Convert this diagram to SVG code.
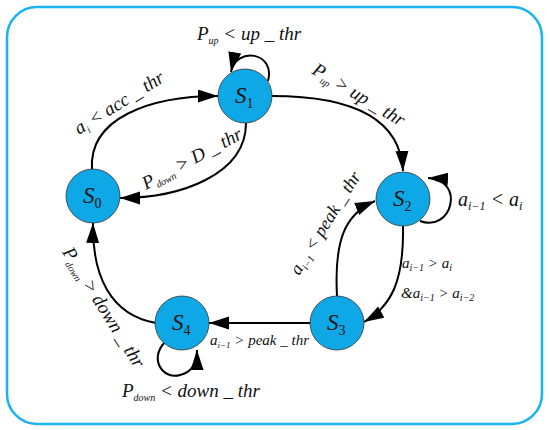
<svg xmlns="http://www.w3.org/2000/svg" width="550" height="430" viewBox="0 0 550 430">
<defs>
<marker id="arr" markerUnits="userSpaceOnUse" markerWidth="22" markerHeight="14" refX="20" refY="6.5" orient="auto">
<path d="M0,0 L20,6.5 L0,13 z" fill="#000"/>
</marker>
<style>
.node{fill:#0ea8e6;stroke:#333;stroke-width:0.8}
.edge{fill:none;stroke:#000;stroke-width:2;marker-end:url(#arr)}
.t{font-style:italic;fill:#111}
.nl{font-size:23px}
.d{font-style:normal}
</style>
</defs>
<rect x="7" y="7" width="535" height="417" rx="30" ry="30" fill="#fff" stroke="#19b3f0" stroke-width="2.5"/>
<g id="connectors">
<path class="edge" d="M92,170 C88,118 150,96 218,96"/>
<path class="edge" d="M246,123 C246,175 180,198 120,198"/>
<path class="edge" d="M268,81 C276,52 236,46 231,72"/>
<path class="edge" d="M272,96 C340,96 400,112 403,171"/>
<path class="edge" d="M420,221 C452,233 466,180 428,178"/>
<path class="edge" d="M403,226 C404,280 392,306 364,322"/>
<path class="edge" d="M337,296 C334,240 345,214 375,201"/>
<path class="edge" d="M310,323 L209,323"/>
<path class="edge" d="M156,323 C110,315 92,275 93,223"/>
<path class="edge" d="M165,342 C148,360 164,380 180,375 C193,372 197,362 197,350"/>
</g>
<g font-family="Liberation Serif, Times New Roman, serif">
<g id="S0"><circle class="node" cx="93" cy="196" r="27"/><text class="t nl" x="83" y="203">S<tspan class="d" font-size="14" dy="5">0</tspan></text></g>
<g id="S1"><circle class="node" cx="245" cy="96" r="27"/><text class="t nl" x="235" y="103">S<tspan class="d" font-size="14" dy="5">1</tspan></text></g>
<g id="S2"><circle class="node" cx="403" cy="199" r="27"/><text class="t nl" x="393" y="206">S<tspan class="d" font-size="14" dy="5">2</tspan></text></g>
<g id="S3"><circle class="node" cx="337" cy="323" r="27"/><text class="t nl" x="327" y="330">S<tspan class="d" font-size="14" dy="5">3</tspan></text></g>
<g id="S4"><circle class="node" cx="182" cy="323" r="27"/><text class="t nl" x="172" y="330">S<tspan class="d" font-size="14" dy="5">4</tspan></text></g>
<g id="labels">
<text class="t" font-size="19" x="197" y="40">P<tspan font-size="10" dy="4">up</tspan><tspan dy="-4"> &lt; up _ thr</tspan></text>
<text class="t" font-size="19" transform="translate(79,135) rotate(-32)">a<tspan font-size="10" dy="4">i</tspan><tspan dy="-4"> &lt; acc _ thr</tspan></text>
<text class="t" font-size="19" transform="translate(146,190) rotate(-28)">P<tspan font-size="10" dy="4">down</tspan><tspan dy="-4"> &gt; D _ thr</tspan></text>
<text class="t" font-size="19" transform="translate(311,73) rotate(31)">P<tspan font-size="10" dy="4">up</tspan><tspan dy="-4"> &gt; up _ thr</tspan></text>
<text class="t" font-size="20" x="458" y="206">a<tspan font-size="12" dy="4">i−1</tspan><tspan dy="-4"> &lt; a</tspan><tspan font-size="12" dy="4">i</tspan></text>
<text class="t" font-size="15" x="402" y="268">a<tspan font-size="10" dy="3">i−1</tspan><tspan dy="-3"> &gt; a</tspan><tspan font-size="10" dy="3">i</tspan></text>
<text class="t" font-size="15" x="401" y="298">&amp;a<tspan font-size="10" dy="3">i−1</tspan><tspan dy="-3"> &gt; a</tspan><tspan font-size="10" dy="3">i−2</tspan></text>
<text class="t" font-size="18" transform="translate(299,276) rotate(-58)">a<tspan font-size="10" dy="4">i−1</tspan><tspan dy="-4"> &lt; peak _ thr</tspan></text>
<text class="t" font-size="15" x="210" y="345">a<tspan font-size="9" dy="3">i−1</tspan><tspan dy="-3"> &gt; peak _ thr</tspan></text>
<text class="t" font-size="19" transform="translate(62,252) rotate(58)">P<tspan font-size="10" dy="4">down</tspan><tspan dy="-4"> &gt; down _ thr</tspan></text>
<text class="t" font-size="19" x="122" y="397">P<tspan font-size="10" dy="4">down</tspan><tspan dy="-4"> &lt; down _ thr</tspan></text>
</g>
</g>
</svg>
